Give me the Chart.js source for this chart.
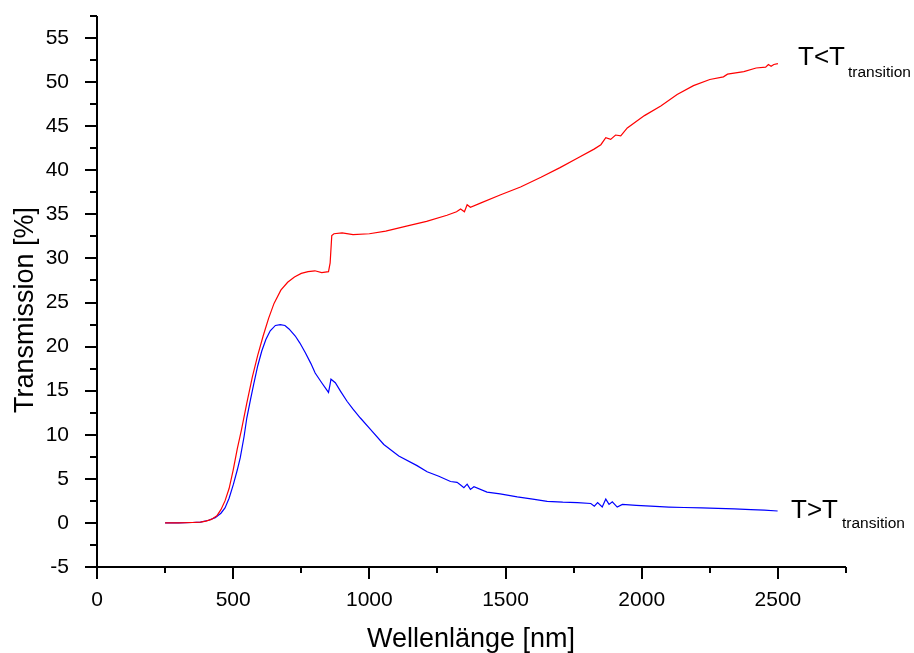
<!DOCTYPE html>
<html>
<head>
<meta charset="utf-8">
<script src="https://cdn.jsdelivr.net/npm/chart.js@4.4.1/dist/chart.umd.min.js"></script>
<style>
  body { margin: 0; background: #fff; }
  canvas { display: block; }
</style>
</head>
<body>
<canvas id="specChart" width="914" height="653"></canvas>
<script>
// Red curve: below transition temperature
const redWl = [250, 300, 350, 380, 400, 420, 440, 455, 470, 485, 500, 515, 530, 550, 570, 590, 610, 630, 650, 675,
  700, 725, 750, 775, 800, 825, 850, 856, 862, 870, 900, 940, 1000, 1060, 1140, 1210, 1285, 1320, 1335, 1349,
  1359, 1371, 1410, 1480, 1555, 1630, 1700, 1765, 1825, 1850, 1868, 1886, 1904, 1923, 1947, 2010, 2070, 2130,
  2190, 2250, 2300, 2315, 2375, 2420, 2455, 2465, 2475, 2485, 2500];
const redT = [0, 0, 0.05, 0.1, 0.2, 0.4, 0.8, 1.5, 2.5, 3.9, 6.0, 8.4, 10.5, 13.6, 16.5, 19.0, 21.2, 23.2, 24.9, 26.4,
  27.3, 27.9, 28.3, 28.5, 28.6, 28.4, 28.5, 29.5, 32.6, 32.8, 32.9, 32.7, 32.8, 33.1, 33.7, 34.2, 34.9, 35.3, 35.6, 35.3,
  36.1, 35.8, 36.3, 37.2, 38.1, 39.2, 40.3, 41.4, 42.4, 42.9, 43.7, 43.5, 44.0, 43.9, 44.8, 46.2, 47.3, 48.6,
  49.6, 50.3, 50.6, 50.9, 51.2, 51.6, 51.7, 52.0, 51.8, 52.0, 52.1];

// Blue curve: above transition temperature
const blueWl = [250, 300, 350, 380, 410, 434, 455, 470, 485, 501, 515, 526, 540, 550, 563, 575, 590, 605, 620, 636,
  655, 673, 690, 705, 728, 745, 765, 785, 801, 825, 850, 855, 859, 875, 895, 918, 940, 967, 1004, 1053,
  1108, 1175, 1212, 1255, 1298, 1322, 1335, 1347, 1359, 1371, 1384, 1432, 1480, 1543, 1600, 1653, 1710, 1764,
  1813, 1826, 1838, 1855, 1868, 1880, 1892, 1910, 1929, 1980, 2033, 2100, 2156, 2220, 2279, 2340, 2401, 2450, 2499];
const blueT = [0, 0, 0.05, 0.1, 0.3, 0.6, 1.1, 1.7, 2.8, 4.4, 6.0, 7.4, 9.8, 11.9, 13.9, 15.7, 17.8, 19.5, 20.8, 21.8,
  22.4, 22.5, 22.4, 22.0, 21.2, 20.4, 19.3, 18.1, 17.0, 15.9, 14.8, 15.6, 16.3, 15.9, 14.9, 13.8, 12.9, 11.9, 10.6, 8.9,
  7.6, 6.5, 5.8, 5.3, 4.7, 4.6, 4.3, 4.0, 4.4, 3.8, 4.1, 3.5, 3.3, 2.95, 2.7, 2.45, 2.35, 2.3,
  2.2, 1.9, 2.3, 1.8, 2.7, 2.1, 2.4, 1.8, 2.1, 2.0, 1.9, 1.8, 1.75, 1.7, 1.65, 1.6, 1.5, 1.45, 1.35];

// axes
const xMin = 0, xMax = 2750, xStep = 250, xLabelStep = 500;
const yMin = -5, yMax = 57.5, yStep = 2.5, yLabelStep = 5;

const FONT = '"Liberation Sans", Arial, sans-serif';

function toPoints(xs, ys) {
    return xs.map((x, i) => ({ x: x, y: ys[i] }));
}

// axis lines, outer ticks, titles and curve labels
const framePlugin = {
    id: 'frame',
    afterDraw(chart) {
        const ctx = chart.ctx;
        const area = chart.chartArea;
        const xs = chart.scales.x;
        const ys = chart.scales.y;
        ctx.save();
        ctx.strokeStyle = '#000';
        ctx.lineWidth = 2;
        ctx.beginPath();
        ctx.moveTo(area.left, area.top);
        ctx.lineTo(area.left, area.bottom);
        ctx.lineTo(area.right, area.bottom);
        ctx.stroke();

        ctx.beginPath();
        for (let v = xMin; v <= xMax + 0.01; v += xStep) {
            const px = Math.round(xs.getPixelForValue(v));
            const len = (v % xLabelStep === 0) ? 12 : 6;
            ctx.moveTo(px, area.bottom);
            ctx.lineTo(px, area.bottom + len);
        }
        for (let v = yMin; v <= yMax + 0.01; v += yStep) {
            const py = Math.round(ys.getPixelForValue(v));
            const len = (Math.abs(v % yLabelStep) < 0.01) ? 12 : 7;
            ctx.moveTo(area.left, py);
            ctx.lineTo(area.left - len, py);
        }
        ctx.stroke();

        ctx.fillStyle = '#000';
        // axis titles
        ctx.font = '27px ' + FONT;
        ctx.textAlign = 'center';
        ctx.textBaseline = 'alphabetic';
        ctx.fillText('Wellenlänge [nm]', 471, 647);
        ctx.save();
        ctx.translate(33, 310);
        ctx.rotate(-Math.PI / 2);
        ctx.fillText('Transmission [%]', 0, 0);
        ctx.restore();

        // curve labels
        ctx.textAlign = 'left';
        ctx.font = '26px ' + FONT;
        ctx.fillText('T<T', 798, 65);
        ctx.fillText('T>T', 791, 518);
        ctx.font = '15.5px ' + FONT;
        ctx.fillText('transition', 848, 77);
        ctx.fillText('transition', 842, 528);
        ctx.restore();
    }
};

const ctx = document.getElementById('specChart').getContext('2d');
new Chart(ctx, {
    type: 'line',
    data: {
        datasets: [
            {
                label: 'T<T transition',
                data: toPoints(redWl, redT),
                borderColor: '#ff0000',
                borderWidth: 1.2,
                pointRadius: 0,
                tension: 0,
                fill: false
            },
            {
                label: 'T>T transition',
                data: toPoints(blueWl, blueT),
                borderColor: '#0000ff',
                borderWidth: 1.2,
                pointRadius: 0,
                tension: 0,
                fill: false
            }
        ]
    },
    options: {
        responsive: false,
        animation: false,
        layout: { padding: { top: 16, right: 68, left: 0, bottom: 0 } },
        plugins: {
            legend: { display: false },
            tooltip: { enabled: false }
        },
        scales: {
            x: {
                type: 'linear',
                min: xMin,
                max: xMax,
                grid: { display: false },
                border: { display: false },
                afterFit: (scale) => {
                    scale.height = 86;
                    scale.paddingLeft = 0;
                    scale.paddingRight = 0;
                },
                ticks: {
                    stepSize: xStep,
                    autoSkip: false,
                    maxRotation: 0,
                    padding: 13,
                    color: '#000',
                    font: { family: FONT, size: 21 },
                    callback: (v) => (v % xLabelStep === 0 ? String(v) : '')
                }
            },
            y: {
                min: yMin,
                max: yMax,
                grid: { display: false },
                border: { display: false },
                // tick padding is otherwise added above the plot too
                afterFit: (scale) => {
                    scale.width = 97;
                    scale.paddingTop = 0;
                    scale.paddingBottom = 0;
                },
                ticks: {
                    stepSize: yStep,
                    autoSkip: false,
                    padding: 20,
                    color: '#000',
                    font: { family: FONT, size: 21 },
                    callback: (v) => (Math.abs(v % yLabelStep) < 0.01 ? String(v) : '')
                }
            }
        }
    },
    plugins: [framePlugin]
});
</script>
</body>
</html>
